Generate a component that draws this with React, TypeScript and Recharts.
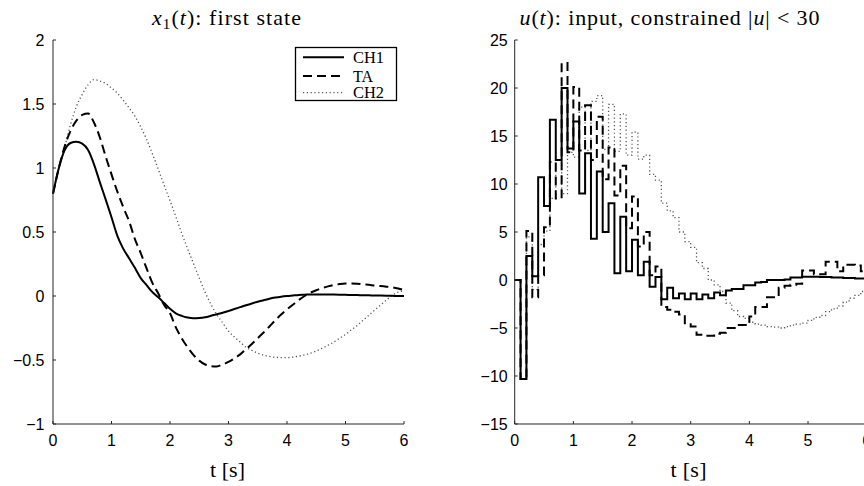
import React from 'react';
import { LineChart, Line, XAxis, YAxis } from 'recharts';

// sample instants [s]
const sampleTimes = [
  0, 0.1, 0.2, 0.3, 0.4, 0.5, 0.6, 0.7, 0.8, 0.9,
  1, 1.1, 1.2, 1.3, 1.4, 1.5, 1.6, 1.7, 1.8, 1.9,
  2, 2.1, 2.2, 2.3, 2.4, 2.5, 2.6, 2.7, 2.8, 2.9,
  3, 3.1, 3.2, 3.3, 3.4, 3.5, 3.6, 3.7, 3.8, 3.9,
  4, 4.1, 4.2, 4.3, 4.4, 4.5, 4.6, 4.7, 4.8, 4.9,
  5, 5.1, 5.2, 5.3, 5.4, 5.5, 5.6, 5.7, 5.8, 5.9,
  6,
];

// x1(t): first state
const stateCH1 = [
  0.8, 1.0, 1.14, 1.195, 1.205, 1.19, 1.14, 1.03, 0.89, 0.755,
  0.615, 0.47, 0.37, 0.295, 0.22, 0.14, 0.085, 0.03, -0.01, -0.055,
  -0.1, -0.135, -0.155, -0.168, -0.174, -0.172, -0.166, -0.155, -0.143, -0.131,
  -0.117, -0.102, -0.087, -0.072, -0.058, -0.045, -0.033, -0.021, -0.012, -0.005,
  0.0, 0.004, 0.008, 0.01, 0.012, 0.012, 0.012, 0.012, 0.011, 0.01,
  0.009, 0.008, 0.007, 0.006, 0.005, 0.004, 0.003, 0.002, 0.001, 0.0,
  0.0,
];
const stateTA = [
  0.8, 1.0, 1.17, 1.29, 1.37, 1.415, 1.425, 1.355, 1.24, 1.09,
  0.95, 0.815, 0.695, 0.585, 0.445, 0.335, 0.215, 0.1, 0.02, -0.07,
  -0.135, -0.245, -0.33, -0.4, -0.46, -0.505, -0.535, -0.548, -0.55, -0.535,
  -0.515, -0.487, -0.456, -0.415, -0.375, -0.33, -0.285, -0.238, -0.19, -0.145,
  -0.105, -0.068, -0.032, 0.0, 0.026, 0.045, 0.062, 0.075, 0.086, 0.093,
  0.097, 0.097, 0.095, 0.091, 0.087, 0.082, 0.078, 0.073, 0.067, 0.058,
  0.047,
];
const stateCH2 = [
  0.8, 1.0, 1.165, 1.34, 1.48, 1.575, 1.65, 1.69, 1.68, 1.66,
  1.625, 1.585, 1.53, 1.47, 1.405, 1.32, 1.224, 1.11, 0.99, 0.865,
  0.745, 0.62, 0.49, 0.37, 0.255, 0.14, 0.03, -0.065, -0.145, -0.21,
  -0.275, -0.32, -0.36, -0.4, -0.425, -0.446, -0.462, -0.472, -0.479, -0.481,
  -0.481, -0.478, -0.47, -0.46, -0.447, -0.43, -0.408, -0.385, -0.36, -0.33,
  -0.3, -0.265, -0.23, -0.19, -0.15, -0.11, -0.07, -0.032, 0.005, 0.03,
  0.04,
];

// u(t): input (zero-order hold)
const inputCH1 = [
  0, -10.3, 2.5, 0.4, 10.7, 7.7, 16.7, 12.5, 20.0, 13.7,
  16.5, 9.0, 13.2, 4.3, 11.3, 5.0, 8.0, 0.7, 6.6, 0.9,
  4.2, 0.5, 1.9, -0.7, 0.3, -2.0, -0.8, -1.9, -1.4, -2.0,
  -1.4, -2.0, -1.5, -1.9, -1.3, -1.6, -1.1, -0.95, -0.95, -0.55,
  -0.55, -0.25, -0.2, 0.0, 0.0, 0.0, 0.05, 0.25, 0.25, 0.35,
  0.35, 0.35, 0.3, 0.3, 0.25, 0.25, 0.2, 0.2, 0.15, 0.15,
  0.1,
];
const inputTA = [
  0, -10.3, 5.1, -1.8, 0.5, 5.5, 12.3, 8.5, 22.6, 13.3,
  20.1, 13.5, 18.2, 12.5, 17.0, 10.5, 13.8, 8.8, 11.9, 5.4,
  8.7, 3.5, 5.0, 0.5, 1.4, -2.8, -3.1, -3.3, -3.6, -4.5,
  -4.85, -5.7, -5.8, -5.8, -5.6, -5.5, -5.0, -5.0, -4.7, -4.7,
  -3.8, -2.8, -2.8, -1.8, -1.8, -0.8, -0.6, -0.5, -0.4, 1.0,
  1.0, 0.6, 0.6, 1.9, 1.9, 0.9, 1.6, 1.6, 1.5, 0.9,
  0.9,
];
const inputCH2 = [
  0, -10.3, 4.5, -1.0, 3.7, 5.1, 8.5, 12.5, 9.0, 13.3,
  12.8, 18.0, 13.5, 18.6, 19.2, 13.6, 18.3, 13.4, 17.3, 13.0,
  15.4, 12.6, 13.0, 11.0, 10.4, 8.0, 7.2, 6.5, 5.0, 4.0,
  3.4, 1.8, 1.2, 0.0, -0.5, -1.2, -2.4, -3.2, -3.8, -4.0,
  -4.4, -4.6, -4.7, -4.85, -4.9, -5.0, -4.85, -4.7, -4.6, -4.5,
  -4.2, -3.9, -3.7, -3.3, -3.0, -2.7, -2.3, -1.9, -1.6, -1.2,
  -0.9,
];

const timeTicks = [0, 1, 2, 3, 4, 5, 6];
const stateTicks = [-1, -0.5, 0, 0.5, 1, 1.5, 2];
const inputTicks = [-15, -10, -5, 0, 5, 10, 15, 20, 25];
const seriesNames = ['CH1', 'TA', 'CH2'];

const stateData = sampleTimes.map((t, i) => ({ t, ch1: stateCH1[i], ta: stateTA[i], ch2: stateCH2[i] }));
const inputData = sampleTimes.map((t, i) => ({ t, ch1: inputCH1[i], ta: inputTA[i], ch2: inputCH2[i] }));

const fmt = (v: number) => (v < 0 ? '\u2212' + String(Math.abs(v)) : String(v));
const tickStyle = { fontSize: 16, fill: '#000', fontFamily: '"Liberation Sans", Arial, sans-serif' };
const axisColor = '#262626';
const serif = '"Liberation Serif", "Times New Roman", serif';

const solid = { stroke: '#000', strokeWidth: 2 };
const dashed = { stroke: '#000', strokeWidth: 2, strokeDasharray: '9 5' };
const dotted = { stroke: '#555', strokeWidth: 1.3, strokeDasharray: '1.2 2.6' };

export default function App() {
  return (
    <div style={{ position: 'fixed', left: 0, top: 0, width: 864, height: 486, overflow: 'hidden', background: '#fff' }}>
      <div style={{ position: 'absolute', left: 0, top: 0 }}>
        <LineChart width={432} height={486} data={stateData} margin={{ top: 40, right: 28, bottom: 0, left: 0 }}>
          <XAxis dataKey="t" type="number" domain={[0, 6]} ticks={timeTicks} interval={0}
            height={62} tickSize={-3} tickMargin={14} tick={tickStyle}
            axisLine={{ stroke: axisColor }} tickLine={{ stroke: axisColor }} />
          <YAxis type="number" domain={[-1, 2]} ticks={stateTicks} interval={0} width={53}
            tickSize={-3} tickMargin={11.5} tick={tickStyle} tickFormatter={fmt}
            axisLine={{ stroke: axisColor }} tickLine={{ stroke: axisColor }} />
          <Line dataKey="ch2" name="CH2" type="monotone" dot={false} isAnimationActive={false} {...dotted} />
          <Line dataKey="ta" name="TA" type="monotone" dot={false} isAnimationActive={false} {...dashed} />
          <Line dataKey="ch1" name="CH1" type="monotone" dot={false} isAnimationActive={false} {...solid} />
        </LineChart>
      </div>
      <div style={{ position: 'absolute', left: 432, top: 0 }}>
        <LineChart width={444.7} height={486} data={inputData} margin={{ top: 40, right: 10, bottom: 0, left: 0 }}>
          <XAxis dataKey="t" type="number" domain={[0, 6]} ticks={timeTicks} interval={0}
            height={62} tickSize={-3} tickMargin={14} tick={tickStyle}
            axisLine={{ stroke: axisColor }} tickLine={{ stroke: axisColor }} />
          <YAxis type="number" domain={[-15, 25]} ticks={inputTicks} interval={0} width={82.7}
            tickSize={-3} tickMargin={10} tick={tickStyle} tickFormatter={fmt}
            axisLine={{ stroke: axisColor }} tickLine={{ stroke: axisColor }} />
          <Line dataKey="ch2" name="CH2" type="stepAfter" dot={false} isAnimationActive={false} {...dotted} />
          <Line dataKey="ta" name="TA" type="stepAfter" dot={false} isAnimationActive={false} {...dashed} />
          <Line dataKey="ch1" name="CH1" type="stepAfter" dot={false} isAnimationActive={false} {...solid} />
        </LineChart>
      </div>
      <svg width={864} height={486} style={{ position: 'absolute', left: 0, top: 0, pointerEvents: 'none' }}>
        <text x={152} y={25} fontFamily={serif} fontSize={22} textLength={149} lengthAdjust="spacing" fill="#000">
          <tspan fontStyle="italic">x</tspan>
          <tspan fontSize={15} dy={4}>1</tspan>
          <tspan dy={-4}>(</tspan>
          <tspan fontStyle="italic">t</tspan>
          <tspan>): first state</tspan>
        </text>
        <text x={519.5} y={25} fontFamily={serif} fontSize={22} textLength={300} lengthAdjust="spacing" fill="#000">
          <tspan fontStyle="italic">u</tspan>
          <tspan>(</tspan>
          <tspan fontStyle="italic">t</tspan>
          <tspan>): input, constrained |</tspan>
          <tspan fontStyle="italic">u</tspan>
          <tspan>| &lt; 30</tspan>
        </text>
        <text x={210} y={477} fontFamily={serif} fontSize={22} textLength={35} lengthAdjust="spacing" fill="#000">t [s]</text>
        <text x={670.5} y={477} fontFamily={serif} fontSize={22} textLength={36} lengthAdjust="spacing" fill="#000">t [s]</text>
        <g>
          <rect x={295.5} y={47.5} width={101} height={53} fill="#fff" stroke="#000" strokeWidth={1.3} />
          <line x1={303} x2={344} y1={57.3} y2={57.3} {...solid} />
          <line x1={303} x2={344} y1={76} y2={76} {...dashed} />
          <line x1={303} x2={344} y1={92.7} y2={92.7} {...dotted} />
          <text x={353} y={63} fontFamily={serif} fontSize={16} textLength={31} lengthAdjust="spacingAndGlyphs" fill="#000">{seriesNames[0]}</text>
          <text x={353} y={81.5} fontFamily={serif} fontSize={16} fill="#000">{seriesNames[1]}</text>
          <text x={353} y={97.5} fontFamily={serif} fontSize={16} textLength={31} lengthAdjust="spacingAndGlyphs" fill="#000">{seriesNames[2]}</text>
        </g>
      </svg>
    </div>
  );
}
